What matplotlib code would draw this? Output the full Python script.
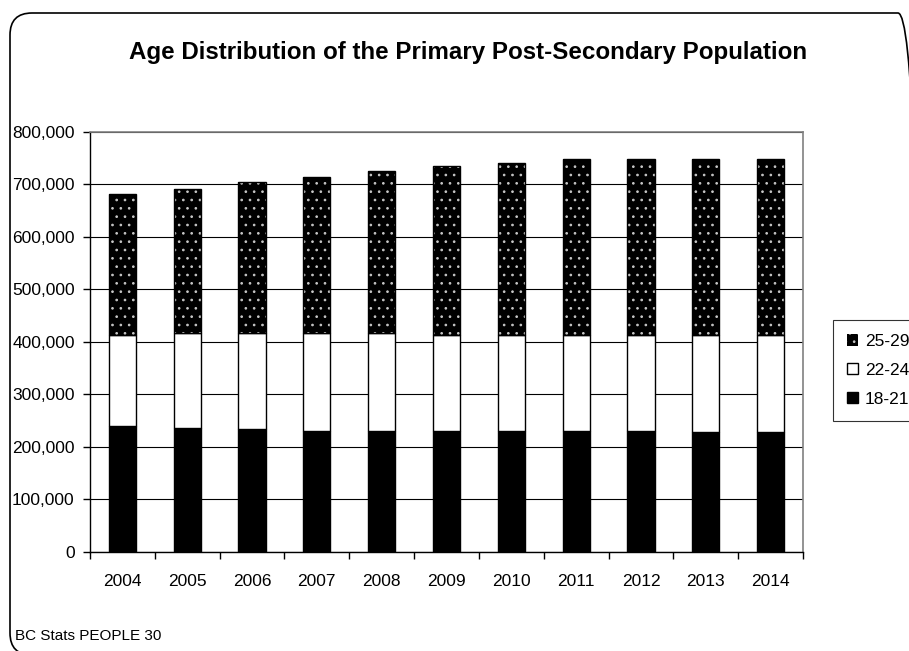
import numpy as np
import matplotlib
matplotlib.use('Agg')
from matplotlib import pyplot as plt
from matplotlib.patches import FancyBboxPatch, Patch
from matplotlib.ticker import FuncFormatter

# data (people)
years = ['2004', '2005', '2006', '2007', '2008', '2009', '2010',
         '2011', '2012', '2013', '2014']
age_18_21 = [239000, 236000, 233000, 230000, 230000, 230000, 229000,
             229000, 229000, 227000, 227000]
age_22_24 = [173000, 179500, 182500, 185500, 185500, 182000, 183000,
             183000, 183000, 185000, 185000]
age_25_29 = [269500, 275500, 288500, 297500, 309500, 323000, 328500,
             335000, 335000, 335000, 335000]
legend_labels = ['25-29', '22-24', '18-21']

plt.rcParams['font.family'] = ['Liberation Sans', 'DejaVu Sans']
plt.rcParams['hatch.linewidth'] = 0.7

fig = plt.figure(figsize=(9.09, 6.51), dpi=100)
ax = fig.add_axes([0.099, 0.1528, 0.7844, 0.6452])

x = np.arange(len(years))
bottom_mid = np.array(age_18_21)
bottom_top = bottom_mid + np.array(age_22_24)
width = 0.42
dot_color = '#c8c8c8'

# stacked bars, black / white / black with light dots
ax.bar(x, age_18_21, width, color='black', edgecolor='black',
       linewidth=1, zorder=3)
ax.bar(x, age_22_24, width, bottom=bottom_mid, color='white',
       edgecolor='black', linewidth=1, zorder=3)
ax.bar(x, age_25_29, width, bottom=bottom_top, color='black',
       edgecolor=dot_color, hatch='..', linewidth=0, zorder=3)
ax.bar(x, age_25_29, width, bottom=bottom_top, fill=False,
       edgecolor='black', linewidth=1, zorder=4)

# axes limits and grid
ax.set_xlim(-0.5, len(years) - 0.5)
ax.set_ylim(0, 800000)
ax.set_yticks(np.arange(0, 800001, 100000))
ax.yaxis.set_major_formatter(FuncFormatter(lambda v, p: f'{int(v):,}'))
ax.grid(axis='y', color='black', linewidth=0.8, zorder=0)

ax.set_xticks(x)
ax.set_xticklabels(years)
ax.set_xticks(np.arange(-0.5, len(years), 1), minor=True)
ax.tick_params(axis='x', which='major', length=0, pad=16, labelsize=12.5)
ax.tick_params(axis='x', which='minor', length=5, width=1,
               direction='out', color='black')
ax.tick_params(axis='y', length=5, width=1, direction='out', pad=6,
               labelsize=12.5)

for side in ['left', 'bottom']:
    ax.spines[side].set_color('black')
    ax.spines[side].set_linewidth(1)
for side in ['top', 'right']:
    ax.spines[side].set_color('#808080')
    ax.spines[side].set_linewidth(1.2)

# title and footer
fig.text(0.515, 0.92, 'Age Distribution of the Primary Post-Secondary '
         'Population', ha='center', va='center', fontsize=17.4,
         fontweight='bold')
fig.text(0.016, 0.023, 'BC Stats PEOPLE 30', ha='left', va='center',
         fontsize=11)

# legend
handles = [Patch(facecolor='black', edgecolor=dot_color, hatch='..',
                 linewidth=0),
           Patch(facecolor='white', edgecolor='black', linewidth=1),
           Patch(facecolor='black', edgecolor='black', linewidth=1)]
leg = fig.legend(handles, legend_labels, loc='upper left',
                 bbox_to_anchor=(832.7 / 909, 1 - 320 / 651),
                 fontsize=12.5, frameon=True, fancybox=False,
                 handlelength=0.65, handleheight=0.65, handletextpad=0.4,
                 labelspacing=0.8, borderpad=0.8, borderaxespad=0)
leg.get_frame().set_edgecolor('black')
leg.get_frame().set_linewidth(0.8)

# rounded border around the chart
border = FancyBboxPatch((0.10, -0.04), 9.1, 6.42,
                        boxstyle='round,pad=0,rounding_size=0.22',
                        transform=fig.dpi_scale_trans, facecolor='none',
                        edgecolor='black', linewidth=1.2)
fig.add_artist(border)

fig.savefig('out.png', dpi=100)
